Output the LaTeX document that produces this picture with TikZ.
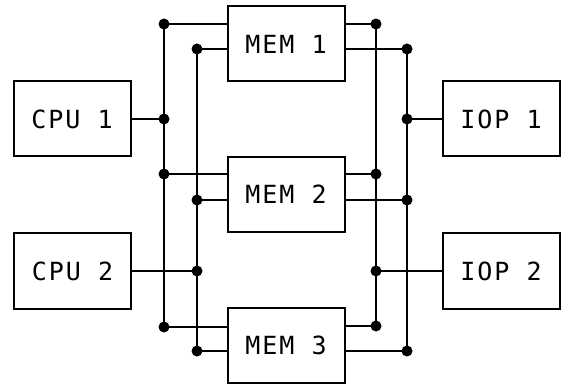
\documentclass[tikz,border=0pt]{standalone}
\usepackage{fontspec}
\newfontfamily\plotfont[LetterSpace=8]{DejaVu Sans Mono}
\begin{document}
\begin{tikzpicture}[x=1pt,y=-1pt, line width=2pt,
  unit/.style={draw, minimum width=117pt, minimum height=75pt, inner sep=0pt,
    font=\plotfont\fontsize{25}{25}\selectfont},
  jdot/.style={circle, fill, draw=none, inner sep=0pt, minimum size=11pt}]
\useasboundingbox (0,0) rectangle (562,387);
% units
\node[unit] (cpu1) at (72,119) {CPU 1};
\node[unit] (cpu2) at (72.5,271) {CPU 2};
\node[unit] (mem1) at (286,44) {MEM 1};
\node[unit] (mem2) at (286,194.5) {MEM 2};
\node[unit] (mem3) at (286,345.5) {MEM 3};
\node[unit] (iop1) at (501,119) {IOP 1};
\node[unit] (iop2) at (501,271) {IOP 2};
% bus junctions
\coordinate (a1) at (164,24);  \coordinate (a2) at (164,119);
\coordinate (a3) at (164,174); \coordinate (a4) at (164,327);
\coordinate (b1) at (197,49);  \coordinate (b2) at (197,200);
\coordinate (b3) at (197,271); \coordinate (b4) at (197,351);
\coordinate (c1) at (376,24);  \coordinate (c2) at (376,174);
\coordinate (c3) at (376,271); \coordinate (c4) at (376,326);
\coordinate (d1) at (407,49);  \coordinate (d2) at (407,119);
\coordinate (d3) at (407,200); \coordinate (d4) at (407,351);
% buses
\draw (a1) -- (a4);
\draw (b1) -- (b4);
\draw (c1) -- (c4);
\draw (d1) -- (d4);
% processor links
\draw (cpu1.east) -- (a2);
\draw (cpu2.east) -- (b3);
\draw (iop1.west) -- (d2);
\draw (iop2.west) -- (c3);
% memory links
\draw (a1) -- (a1 -| mem1.west);
\draw (b1) -- (b1 -| mem1.west);
\draw (a3) -- (a3 -| mem2.west);
\draw (b2) -- (b2 -| mem2.west);
\draw (a4) -- (a4 -| mem3.west);
\draw (b4) -- (b4 -| mem3.west);
\draw (c1) -- (c1 -| mem1.east);
\draw (d1) -- (d1 -| mem1.east);
\draw (c2) -- (c2 -| mem2.east);
\draw (d3) -- (d3 -| mem2.east);
\draw (c4) -- (c4 -| mem3.east);
\draw (d4) -- (d4 -| mem3.east);
% junction dots
\foreach \p in {a1,a2,a3,a4,b1,b2,b3,b4,c1,c2,c3,c4,d1,d2,d3,d4}
  \node[jdot] (dot\p) at (\p) {};
\end{tikzpicture}
\end{document}
